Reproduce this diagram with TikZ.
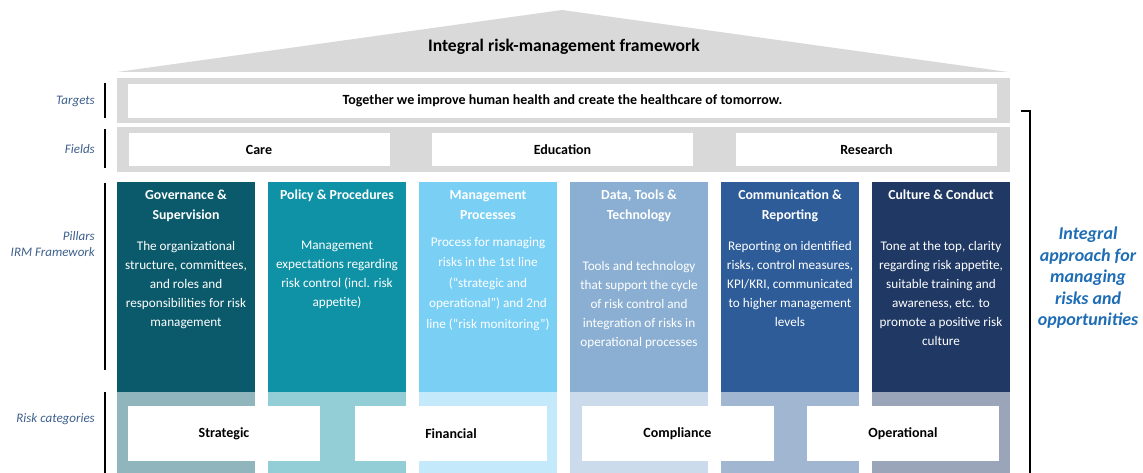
\documentclass[tikz,border=0pt]{standalone}
\usepackage{fontspec}
\setmainfont{Carlito}
\usetikzlibrary{positioning}

\definecolor{roofgray}{HTML}{D9D9D9}
\definecolor{pilA}{HTML}{0B5A6B}
\definecolor{pilB}{HTML}{0F92A6}
\definecolor{pilC}{HTML}{7ACFF5}
\definecolor{pilD}{HTML}{8BAFD2}
\definecolor{pilE}{HTML}{2D5C98}
\definecolor{pilF}{HTML}{1F3864}
\definecolor{labelblue}{HTML}{3D5F8C}
\definecolor{approachblue}{HTML}{1E6DB5}

\tikzset{
  band/.style={fill=roofgray, minimum width=893, minimum height=45, inner sep=0},
  whitebox/.style={fill=white, inner sep=0, font=\bfseries\fontsize{14}{17}\selectfont},
  pillar/.style={minimum width=138, minimum height=210, inner sep=0},
  pillarlow/.style={minimum width=138, minimum height=81, inner sep=0},
  pilhead/.style={anchor=north, align=center, inner sep=0, text=white, font=\bfseries\fontsize{13.8}{20}\selectfont},
  pilbody/.style={anchor=north, align=center, inner sep=0, text=white, font=\fontsize{13.2}{19}\selectfont},
  rowlabel/.style={anchor=east, align=right, inner sep=0, text=labelblue, font=\itshape\fontsize{13}{16}\selectfont},
  riskbox/.style={whitebox, minimum width=192, minimum height=55}
}

\begin{document}
\begin{tikzpicture}[x=1pt, y=-1pt]
\useasboundingbox (0,0) rectangle (1143,473);

% roof
\fill[roofgray] (117,72) -- (562,10) -- (1008,72) -- cycle;
\node[font=\bfseries\fontsize{17.6}{20}\selectfont] (title) at (564,47) {Integral risk-management framework};

% targets and fields
\node[band] (targetband) at (563.5,100.5) {};
\node[whitebox, minimum width=869, minimum height=34] (target) at (562.5,101)
  {Together we improve human health and create the healthcare of tomorrow.};
\node[band] (fieldband) at (563.5,149.5) {};
\foreach \i/\x/\f in {1/259/Care, 2/562.5/Education, 3/866.5/Research}
  \node[whitebox, minimum width=261, minimum height=33] (field\i) at (\x,149.5) {\f};

% pillars
\foreach \i/\c in {1/pilA, 2/pilB, 3/pilC, 4/pilD, 5/pilE, 6/pilF} {
  \node[pillar, fill=\c] (p\i) at ({186+151*(\i-1)},287) {};
  \node[pillarlow, fill=\c!45!white] (q\i) at ({186+151*(\i-1)},432.5) {};
}

\node[pilhead] (h1) at (186,190) {Governance \&\\Supervision};
\node[pilhead] (h2) at (337,190) {Policy \& Procedures};
\node[pilhead] (h3) at (488,190) {Management\\Processes};
\node[pilhead] (h4) at (639,190) {Data, Tools \&\\Technology};
\node[pilhead] (h5) at (790,190) {Communication \&\\Reporting};
\node[pilhead] (h6) at (941,190) {Culture \& Conduct};

\node[pilbody] (b1) at (186,241) {The organizational\\structure, committees,\\and roles and\\responsibilities for risk\\management};
\node[pilbody] (b2) at (337,241) {Management\\expectations regarding\\risk control (incl. risk\\appetite)};
\node[pilbody, font=\fontsize{13.2}{20.5}\selectfont] (b3) at (488,237) {Process for managing\\risks in the 1st line\\(``strategic and\\operational'') and 2nd\\line (``risk monitoring'')};
\node[pilbody] (b4) at (639,261) {Tools and technology\\that support the cycle\\of risk control and\\integration of risks in\\operational processes};
\node[pilbody] (b5) at (790,241) {Reporting on identified\\risks, control measures,\\KPI/KRI, communicated\\to higher management\\levels};
\node[pilbody] (b6) at (941,241) {Tone at the top, clarity\\regarding risk appetite,\\suitable training and\\awareness, etc. to\\promote a positive risk\\culture};

% risk categories
\foreach \i/\x/\r in {1/224/Strategic, 2/451/Financial, 3/677.5/Compliance, 4/903/Operational}
  \node[riskbox] (risk\i) at (\x,433.5) {\r};

% row labels
\node[rowlabel] (ltarget) at (95,101) {Targets};
\node[rowlabel] (lfield) at (95,149) {Fields};
\node[rowlabel] (lpillar) at (95,244) {Pillars\\IRM Framework};
\node[rowlabel] (lrisk) at (95,419) {Risk categories};
\coordinate (bt1) at (105,83);  \coordinate (bt2) at (105,118);
\coordinate (bf1) at (105,129); \coordinate (bf2) at (105,168);
\coordinate (bp1) at (105,183); \coordinate (bp2) at (105,370);
\coordinate (br1) at (105,392); \coordinate (br2) at (105,473);
\foreach \a in {bt, bf, bp, br}
  \draw[line width=1.6] (\a1) -- (\a2);

% bracket and approach
\coordinate (k0) at (1021,111);
\coordinate (k1) at (1030,111);
\coordinate (k2) at (1030,473);
\draw[line width=1.6] (k0) -- (k1) -- (k2);
\node[align=center, text=approachblue, font=\bfseries\itshape\fontsize{18}{21.5}\selectfont] (approach) at (1088,278)
  {Integral\\approach for\\managing\\risks and\\opportunities};
\end{tikzpicture}
\end{document}
